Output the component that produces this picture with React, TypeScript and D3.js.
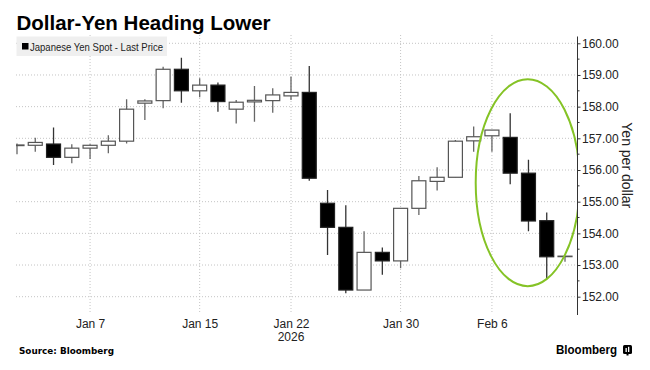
import React, { useRef, useEffect } from "react";
import * as d3 from "d3";

// trading days shown on the chart
const dates = [
  "Jan 1", "Jan 2", "Jan 5", "Jan 6", "Jan 7", "Jan 8", "Jan 9", "Jan 12", "Jan 13", "Jan 14",
  "Jan 15", "Jan 16", "Jan 19", "Jan 20", "Jan 21", "Jan 22", "Jan 23", "Jan 26", "Jan 27", "Jan 28",
  "Jan 29", "Jan 30", "Feb 2", "Feb 3", "Feb 4", "Feb 5", "Feb 6", "Feb 9", "Feb 10", "Feb 11", "Feb 12",
];
const opens = [
  156.77, 156.78, 156.82, 156.40, 156.69, 156.78, 156.91, 158.11, 158.19, 159.18,
  158.50, 158.68, 157.92, 158.15, 158.19, 158.34, 158.45, 154.95, 154.19, 152.21,
  153.40, 153.13, 154.79, 155.64, 155.77, 156.92, 157.08, 157.03, 155.90, 154.40, 153.28,
];
const highs = [
  156.84, 157.02, 157.34, 156.81, 156.81, 157.10, 158.23, 158.23, 159.26, 159.54,
  158.90, 158.76, 158.21, 158.65, 158.58, 158.95, 159.28, 155.37, 154.89, 154.07,
  153.55, 154.79, 155.81, 156.09, 156.95, 157.37, 157.26, 157.79, 156.32, 154.66, 153.28,
];
const lows = [
  156.50, 156.58, 156.16, 156.21, 156.35, 156.53, 156.84, 157.58, 157.95, 158.12,
  158.30, 157.84, 157.47, 157.52, 157.81, 158.21, 155.66, 153.32, 152.11, 152.21,
  152.69, 152.90, 154.58, 155.35, 155.77, 156.58, 156.58, 155.55, 154.07, 152.55, 153.10,
];
const closes = [
  156.79, 156.87, 156.40, 156.69, 156.78, 156.91, 157.92, 158.18, 159.18, 158.50,
  158.68, 158.16, 158.14, 158.20, 158.37, 158.45, 155.74, 154.19, 152.21, 153.40,
  153.13, 154.79, 155.66, 155.77, 156.91, 157.05, 157.26, 155.90, 154.39, 153.26, 153.28,
];

const yTicks = [152, 153, 154, 155, 156, 157, 158, 159, 160];
const yMinorTicks = [152.5, 153.5, 154.5, 155.5, 156.5, 157.5, 158.5, 159.5];
const xTickLabels = ["Jan 7", "Jan 15", "Jan 22", "Jan 30", "Feb 6"];

const FONT = "'Liberation Sans', Arial, sans-serif";

export default function App() {
  const svgRef = useRef<SVGSVGElement>(null);

  useEffect(() => {
    const svg = d3.select(svgRef.current);
    svg.selectAll("*").remove();

    const left = 16, right = 577.5, top = 35, bottom = 315;

    const x = d3.scalePoint<string>().domain(dates).range([17, 565]);
    const y = d3.scaleLinear().domain([152, 160]).range([296.7, 43.3]);
    const bodyW = 14;

    svg.append("defs").append("clipPath").attr("id", "plotClip")
      .append("rect")
      .attr("x", left).attr("y", top)
      .attr("width", right - left).attr("height", bottom - top);

    // grid
    const grid = svg.append("g");
    grid.selectAll("line.h")
      .data(yTicks)
      .join("line")
      .attr("x1", left).attr("x2", right)
      .attr("y1", (d) => y(d)).attr("y2", (d) => y(d))
      .attr("stroke", "#c4c4c4")
      .attr("stroke-dasharray", "1,2");
    grid.selectAll("line.v")
      .data(xTickLabels)
      .join("line")
      .attr("x1", (d) => x(d)!).attr("x2", (d) => x(d)!)
      .attr("y1", top).attr("y2", bottom - 2)
      .attr("stroke", "#c4c4c4")
      .attr("stroke-dasharray", "1,2");

    // candles
    const candles = svg.append("g").attr("clip-path", "url(#plotClip)");
    const idx = d3.range(dates.length);
    const isUp = (i: number) => closes[i] >= opens[i];

    candles.selectAll("line.wick")
      .data(idx)
      .join("line")
      .attr("x1", (i) => x(dates[i])!).attr("x2", (i) => x(dates[i])!)
      .attr("y1", (i) => y(highs[i])).attr("y2", (i) => y(lows[i]))
      .attr("stroke", (i) => (isUp(i) ? "#666" : "#333"))
      .attr("stroke-width", 1.3);

    candles.selectAll("rect.body")
      .data(idx)
      .join("rect")
      .attr("x", (i) => x(dates[i])! - bodyW / 2)
      .attr("width", bodyW)
      .attr("y", (i) => y(Math.max(opens[i], closes[i])))
      .attr("height", (i) => Math.max(0.5, Math.abs(y(opens[i]) - y(closes[i]))))
      .attr("fill", (i) => (isUp(i) ? "#fff" : "#000"))
      .attr("stroke", (i) => (isUp(i) ? "#555" : "#222"))
      .attr("stroke-width", 1.2);

    // highlight ellipse round the last days
    candles.append("ellipse")
      .attr("cx", x("Feb 9")! + 17.5)
      .attr("cy", y(155.6))
      .attr("rx", 52)
      .attr("ry", 103.5)
      .attr("fill", "none")
      .attr("stroke", "#85c326")
      .attr("stroke-width", 2);

    // y axis
    svg.append("line")
      .attr("x1", right).attr("x2", right)
      .attr("y1", 36.5).attr("y2", bottom)
      .attr("stroke", "#333").attr("stroke-width", 1);

    const yAxis = svg.append("g")
      .attr("transform", `translate(${right},0)`)
      .call(d3.axisRight(y).tickValues(yTicks).tickFormat(d3.format(".2f")).tickSize(3).tickPadding(1.5));
    yAxis.select(".domain").remove();
    yAxis.selectAll(".tick line").attr("stroke", "#333");
    yAxis.selectAll("text")
      .attr("font-family", FONT)
      .attr("font-size", 12)
      .attr("fill", "#222");

    svg.append("g").selectAll("line")
      .data(yMinorTicks)
      .join("line")
      .attr("x1", right).attr("x2", right + 2)
      .attr("y1", (d) => y(d)).attr("y2", (d) => y(d))
      .attr("stroke", "#333");

    svg.append("text")
      .attr("transform", `translate(622,${y(156.15)}) rotate(90)`)
      .attr("text-anchor", "middle")
      .attr("font-family", FONT)
      .attr("font-size", 14)
      .attr("fill", "#222")
      .text("Yen per dollar");

    // x labels
    const xAxis = svg.append("g")
      .attr("transform", `translate(0,${bottom})`)
      .call(d3.axisBottom(x).tickValues(xTickLabels).tickSize(0).tickPadding(4.5));
    xAxis.select(".domain").remove();
    xAxis.selectAll("text")
      .attr("font-family", FONT)
      .attr("font-size", 12)
      .attr("fill", "#222");

    svg.append("text")
      .attr("x", x("Jan 22")!)
      .attr("y", 341)
      .attr("text-anchor", "middle")
      .attr("font-family", FONT)
      .attr("font-size", 12)
      .attr("fill", "#222")
      .text("2026");

    // title + legend
    svg.append("text")
      .attr("x", 16.5).attr("y", 29.5)
      .attr("font-family", FONT)
      .attr("font-weight", "bold")
      .attr("font-size", 20.5)
      .attr("fill", "#000")
      .text("Dollar-Yen Heading Lower");

    svg.append("rect")
      .attr("x", 16.5).attr("y", 36.5)
      .attr("width", 150.5).attr("height", 19.5)
      .attr("fill", "#efefef");
    svg.append("rect")
      .attr("x", 22).attr("y", 43)
      .attr("width", 6.5).attr("height", 6.5)
      .attr("fill", "#000");
    svg.append("text")
      .attr("x", 30).attr("y", 50.5)
      .attr("font-family", FONT)
      .attr("font-size", 10.5)
      .attr("textLength", 133)
      .attr("lengthAdjust", "spacingAndGlyphs")
      .attr("fill", "#222")
      .text("Japanese Yen Spot - Last Price");

    // footer
    svg.append("text")
      .attr("x", 19).attr("y", 354)
      .attr("font-family", "'DejaVu Sans', Verdana, sans-serif")
      .attr("font-weight", "bold")
      .attr("font-size", 8.5)
      .attr("textLength", 95)
      .attr("lengthAdjust", "spacingAndGlyphs")
      .attr("fill", "#000")
      .text("Source: Bloomberg");

    svg.append("text")
      .attr("x", 556).attr("y", 354)
      .attr("font-family", FONT)
      .attr("font-weight", "bold")
      .attr("font-size", 12.5)
      .attr("textLength", 61)
      .attr("lengthAdjust", "spacingAndGlyphs")
      .attr("fill", "#000")
      .text("Bloomberg");

    const logo = svg.append("g").attr("transform", "translate(623,345)");
    logo.append("rect").attr("width", 9).attr("height", 9).attr("rx", 1.5).attr("fill", "#000");
    logo.append("rect").attr("x", 2.5).attr("y", 3).attr("width", 1.3).attr("height", 4).attr("fill", "#fff");
    logo.append("rect").attr("x", 5).attr("y", 1.8).attr("width", 1.3).attr("height", 5.2).attr("fill", "#fff");
    logo.append("rect").attr("x", 3.5).attr("y", 9).attr("width", 2).attr("height", 1.5).attr("fill", "#000");
  }, []);

  return (
    <svg
      ref={svgRef}
      width={650}
      height={370}
      style={{ position: "absolute", left: 0, top: 0, background: "#fff" }}
    />
  );
}
